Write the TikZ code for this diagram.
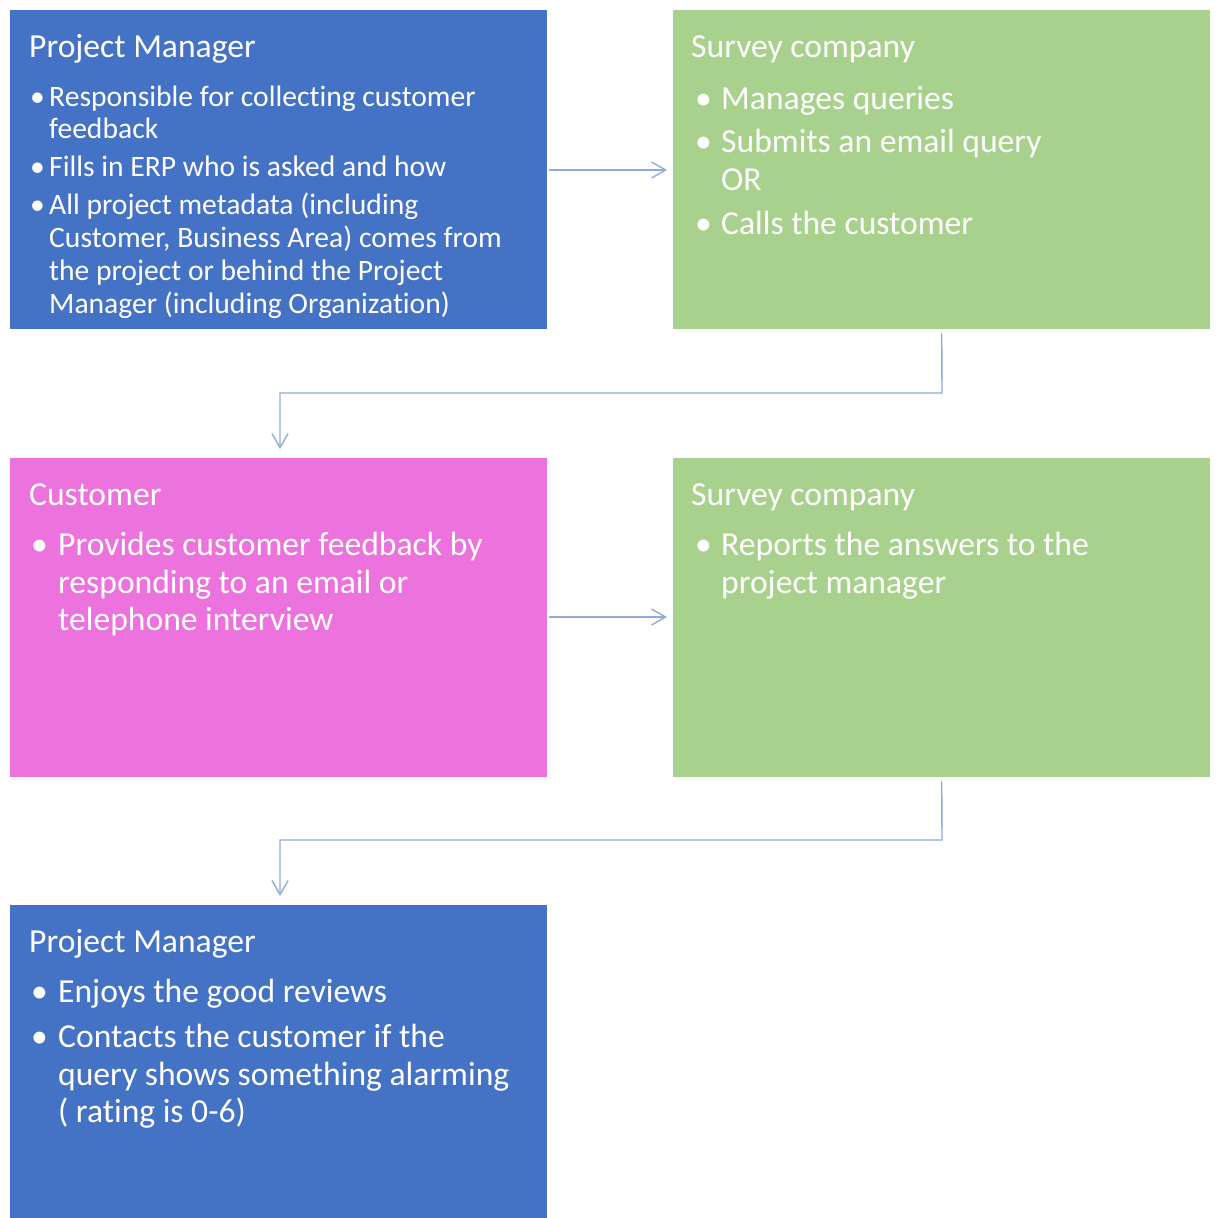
\documentclass[tikz,border=0pt]{standalone}
\usepackage{fontspec}
\setmainfont{Carlito}[Ligatures={NoCommon,NoContextual}]
\usetikzlibrary{arrows.meta}
\definecolor{pmblue}{HTML}{4472C4}
\definecolor{svgreen}{HTML}{A9D18E}
\definecolor{cupink}{HTML}{EC72DD}
\definecolor{arrowblue}{HTML}{8FAADC}
\newcommand\fbig{\fontsize{33.6}{40}\selectfont}
\newcommand\fsmall{\fontsize{29.6}{35}\selectfont}
\tikzset{
  box/.style={draw=none, minimum width=537pt, minimum height=319pt, inner sep=0pt, anchor=north west},
  txt/.style={anchor=base west, inner sep=0pt, text=white, font=\fbig, yshift=-2pt},
  stxt/.style={anchor=base west, inner sep=0pt, text=white, font=\fsmall, yshift=-2pt},
  conn/.style={draw=arrowblue, line width=1.4pt, -{Straight Barb[length=14pt, width=16pt, line width=1.4pt]}}
}
\begin{document}
\begin{tikzpicture}[x=1pt, y=-1pt]
\useasboundingbox (0,0) rectangle (1216,1218);
% boxes
\node[box, fill=pmblue]  (b1) at (10,10) {};
\node[box, fill=svgreen] (b2) at (673,10) {};
\node[box, fill=cupink]  (b3) at (10,458) {};
\node[box, fill=svgreen] (b4) at (673,458) {};
\node[box, fill=pmblue, minimum height=320pt]  (b5) at (10,905) {};
% box 1
\node[txt] (t1) at (29,55) {Project Manager};
\node[stxt] (b1a) at (30,104) {\textbullet};
\node[stxt] (l1a) at (49,104) {Responsible for collecting customer};
\node[stxt] (l1b) at (49,136) {feedback};
\node[stxt] (b1b) at (30,174) {\textbullet};
\node[stxt] (l1c) at (49,174) {Fills in ERP who is asked and how};
\node[stxt] (b1c) at (30,212) {\textbullet};
\node[stxt] (l1d) at (49,212) {All project metadata (including};
\node[stxt] (l1e) at (49,245) {Customer, Business Area) comes from};
\node[stxt] (l1f) at (49,278) {the project or behind the Project};
\node[stxt] (l1g) at (49,311) {Manager (including Organization)};
% box 2
\node[txt] (t2) at (691,55) {Survey company};
\node[txt] (b2a) at (695,107) {\textbullet};
\node[txt] (l2a) at (721,107) {Manages queries};
\node[txt] (b2b) at (695,150) {\textbullet};
\node[txt] (l2b) at (721,150) {Submits an email query};
\node[txt] (l2c) at (721,188) {OR};
\node[txt] (b2c) at (695,232) {\textbullet};
\node[txt] (l2d) at (721,232) {Calls the customer};
% box 3
\node[txt] (t3) at (29,503) {Customer};
\node[txt] (b3a) at (31,553) {\textbullet};
\node[txt] (l3a) at (58,553) {Provides customer feedback by};
\node[txt] (l3b) at (58,591) {responding to an email or};
\node[txt] (l3c) at (58,628) {telephone interview};
% box 4
\node[txt] (t4) at (691,503) {Survey company};
\node[txt] (b4a) at (695,553) {\textbullet};
\node[txt] (l4a) at (721,553) {Reports the answers to the};
\node[txt] (l4b) at (721,591) {project manager};
% box 5
\node[txt] (t5) at (29,950) {Project Manager};
\node[txt] (b5a) at (31,1000) {\textbullet};
\node[txt] (l5a) at (58,1000) {Enjoys the good reviews};
\node[txt] (b5b) at (31,1045) {\textbullet};
\node[txt] (l5b) at (58,1045) {Contacts the customer if the};
\node[txt] (l5c) at (58,1083) {query shows something alarming};
\node[txt] (l5d) at (58,1120) {( rating is 0-6)};
% connectors
\coordinate (k1) at (942,393);
\coordinate (k2) at (280,393);
\coordinate (k3) at (942,840);
\coordinate (k4) at (280,840);
\draw[conn, shorten <=2pt, shorten >=6pt] (b1.east |- 0,170) -- (b2.west |- 0,170);
\draw[conn, shorten <=4pt, shorten >=9pt] (b2.south) -- (k1) -- (k2) -- (k2 |- b3.north);
\draw[conn, shorten <=2pt, shorten >=6pt] (b3.east |- 0,617) -- (b4.west |- 0,617);
\draw[conn, shorten <=4pt, shorten >=9pt] (b4.south) -- (k3) -- (k4) -- (k4 |- b5.north);
\end{tikzpicture}
\end{document}
